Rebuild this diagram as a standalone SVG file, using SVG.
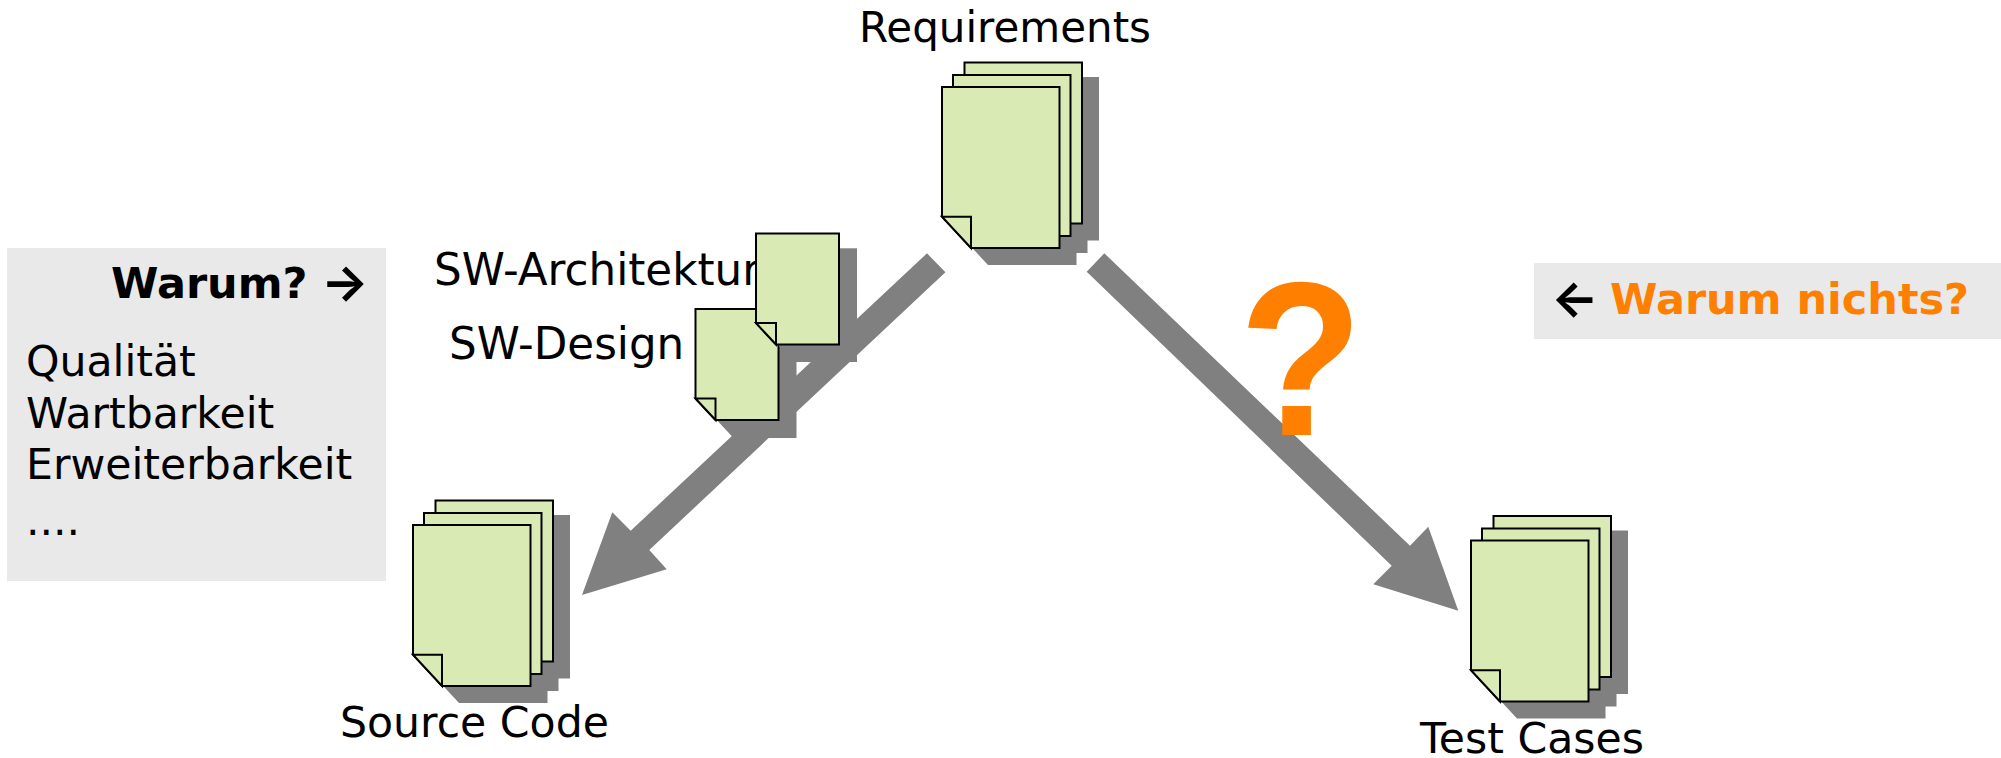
<svg xmlns="http://www.w3.org/2000/svg" width="2001" height="758" viewBox="0 0 2001 758">
<style>
text{font-family:"DejaVu Sans",Verdana,sans-serif;font-size:42.6px;fill:#000}
.b{font-weight:bold;font-size:43px}
.o{fill:#ff8000}
.sw{font-size:43.600px}
.arw{font-family:Inter,"DejaVu Sans",sans-serif;font-weight:700;font-size:50px}
.box{fill:#e9e9e9}
.sheet{fill:#daeab4;stroke:#000;stroke-width:2;stroke-linejoin:miter}
.shadow{fill:#808080}
.conn{fill:#808080}
</style>
<defs>
<path id="big-s" d="M0 0H117.500V161H29L0 129.700Z"/>
<g id="big-page"><use href="#big-s" class="sheet"/><path class="sheet" d="M0 129.700H29V161Z"/></g>
<g id="stack">
<rect class="shadow" x="39.500" y="-10" width="117.500" height="20"/>
<use href="#big-s" class="shadow" x="39.500" y="-7.500"/>
<use href="#big-s" class="shadow" x="28" y="5"/>
<use href="#big-s" class="shadow" x="17" y="17"/>
<use href="#big-page" x="22.500" y="-24.500"/>
<use href="#big-page" x="11" y="-12"/>
<use href="#big-page"/>
</g>
<path id="small-s" d="M0 0H83V111H20L0 89.500Z"/>
</defs>
<rect class="box" x="7" y="248" width="379" height="333"/>
<rect class="box" x="1534" y="263" width="467" height="76"/>
<g id="connectors">
<polygon class="conn" points="927,253.300 945.400,272.300 649.300,550 666.700,569.300 582,595 612.300,512.300 630.700,530.700"/>
<polygon class="conn" points="1104.300,253.300 1086.700,271.700 1391.700,565.700 1373.300,584.300 1458.300,610.700 1428.300,526.700 1410,545.700"/>
</g>
<g id="warum-box">
<text class="b" x="111" y="298">Warum?</text>
<text class="arw" x="321" y="300">→</text>
<text x="26" y="376">Qualität</text>
<text x="26" y="427.500">Wartbarkeit</text>
<text x="26" y="478.500">Erweiterbarkeit</text>
<text x="26" y="535">....</text>
</g>
<g id="warum-nichts-box">
<text class="arw" x="1551" y="316">←</text>
<text class="b o" x="1610" y="314">Warum nichts?</text>
</g>
<text class="o" transform="translate(1239 435) scale(0.955 1.03)" style="font-family:'Liberation Sans',Arial,sans-serif;font-weight:bold;font-size:212px">?</text>
<g id="requirements">
<text x="859" y="42" style="font-size:42px">Requirements</text>
<use href="#stack" x="942" y="87"/>
</g>
<g id="sw-labels">
<text class="sw" x="434" y="285">SW-Architektur</text>
<text class="sw" x="449" y="359">SW-Design</text>
</g>
<g id="sw-design">
<use href="#small-s" class="shadow" x="713.500" y="327"/>
<use href="#small-s" class="sheet" x="695.500" y="309"/>
<path class="sheet" d="M695.500 398.500H715.500V420Z"/>
</g>
<g id="sw-architektur">
<rect class="shadow" x="774" y="248.300" width="83" height="20"/>
<use href="#small-s" class="shadow" x="774" y="251"/>
<use href="#small-s" class="sheet" x="756" y="233.500"/>
<path class="sheet" d="M756 323H776V344.500Z"/>
</g>
<g id="source-code">
<use href="#stack" x="413" y="525"/>
<text x="340" y="737">Source Code</text>
</g>
<g id="test-cases">
<use href="#stack" x="1471" y="540.500"/>
<text x="1420" y="753">Test Cases</text>
</g>
</svg>
